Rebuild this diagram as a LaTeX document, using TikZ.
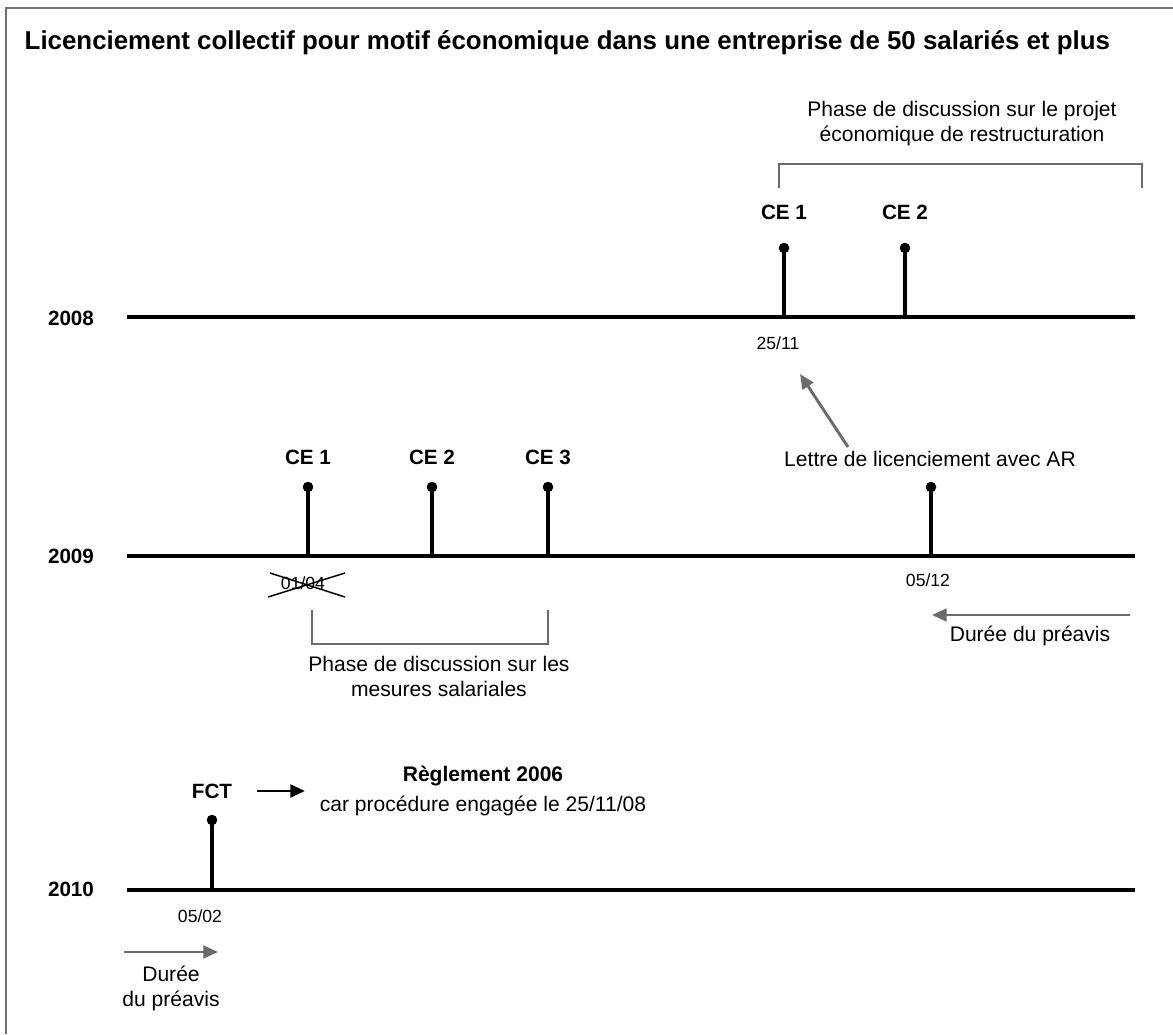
\documentclass[tikz,border=0pt]{standalone}
\usepackage{fontspec}
\setmainfont{Liberation Sans}
\usetikzlibrary{arrows.meta}
\begin{document}
\begin{tikzpicture}[x=.75pt,y=-.75pt,
	axe/.style={line width=3.6pt},
	jalon/.style={line width=2.5pt},
	crochet/.style={draw=black!58,line width=1.9pt},
	fleche/.style={-{Triangle[length=11pt,width=9.5pt]},line width=2.2pt},
	an/.style={font=\fontsize{15.5}{18}\selectfont\bfseries},
	ce/.style={font=\fontsize{15.5}{18}\selectfont\bfseries},
	date/.style={font=\fontsize{13.2}{16}\selectfont},
	txt/.style={font=\fontsize{15.8}{18.8}\selectfont,align=center}]
	\useasboundingbox (0,0) rectangle (1173,1034);
	\draw[black!55,line width=1.5pt] (6,1034) |- (1173,8);
	\node[anchor=base west,font=\fontsize{19.4}{22}\selectfont\bfseries] (titre) at (20,50) {Licenciement collectif pour motif économique dans une entreprise de 50 salariés et plus};
	% 2008
	\node[an] (a08) at (71,318) {2008};
	\draw[axe] (127,317) coordinate (d08) -- (1135,317) coordinate (f08);
	\foreach \x/\t [count=\i] in {784/CE 1,905/CE 2} {
		\coordinate (b08\i) at (\x,317);
		\coordinate (h08\i) at (\x,248);
		\draw[jalon] (b08\i) -- (h08\i);
		\fill (h08\i) circle (5.3);
		\node[ce] (ce08\i) at (\x,212) {\t};
	}
	\node[date] (j2511) at (778,343) {25/11};
	\draw[crochet] (779,188) coordinate (g08) |- (1142,164) coordinate (r08) -- (1142,188);
	\node[txt] (phase08) at (962,124) {Phase de discussion sur le projet\\économique de restructuration};
	\node[txt] (lettre) at (930,459) {Lettre de licenciement avec AR};
	\coordinate (l1) at (848,447);
	\coordinate (l2) at (800,374);
	\draw[fleche,black!58] (l1) -- (l2);
	% 2009
	\node[an] (a09) at (71,556) {2009};
	\draw[axe] (127,556) coordinate (d09) -- (1135,556) coordinate (f09);
	\foreach \x/\t [count=\i] in {308/CE 1,432/CE 2,548/CE 3} {
		\coordinate (b09\i) at (\x,556);
		\coordinate (h09\i) at (\x,487);
		\draw[jalon] (b09\i) -- (h09\i);
		\fill (h09\i) circle (5.3);
		\node[ce] (ce09\i) at (\x,457) {\t};
	}
	\coordinate (b094) at (931,556);
	\coordinate (h094) at (931,487);
	\draw[jalon] (b094) -- (h094);
	\fill (h094) circle (5.3);
	\node[date] (j0104) at (303,583) {01/04};
	\draw[line width=1.1pt] (268,597) -- (345,573) (270,573) -- (345,597);
	\node[date] (j0512) at (928,580) {05/12};
	\draw[crochet] (312,610) |- (548,644) -- (548,610);
	\node[txt] (phase09) at (439,676) {Phase de discussion sur les\\mesures salariales};
	\coordinate (p1) at (1130,615);
	\coordinate (p2) at (932,615);
	\draw[fleche,black!58] (p1) -- (p2);
	\node[txt] (preavis1) at (1030,636) {Durée du préavis};
	% 2010
	\node[an] (a10) at (71,889) {2010};
	\draw[axe] (127,890) coordinate (d10) -- (1135,890) coordinate (f10);
	\coordinate (b10) at (212,890);
	\coordinate (h10) at (212,820);
	\draw[jalon] (b10) -- (h10);
	\fill (h10) circle (5.3);
	\node[ce] (fct) at (212,791) {FCT};
	\node[txt,font=\fontsize{15.8}{23}\selectfont] (regl) at (483,791) {\textbf{Règlement 2006}\\car procédure engagée le 25/11/08};
	\coordinate (r1) at (257,791);
	\coordinate (r2) at (305,791);
	\draw[fleche] (r1) -- (r2);
	\node[date] (j0502) at (200,916) {05/02};
	\coordinate (q1) at (124,952);
	\coordinate (q2) at (218,952);
	\draw[fleche,black!58] (q1) -- (q2);
	\node[txt] (preavis2) at (171,988) {Durée\\du préavis};
\end{tikzpicture}
\end{document}
